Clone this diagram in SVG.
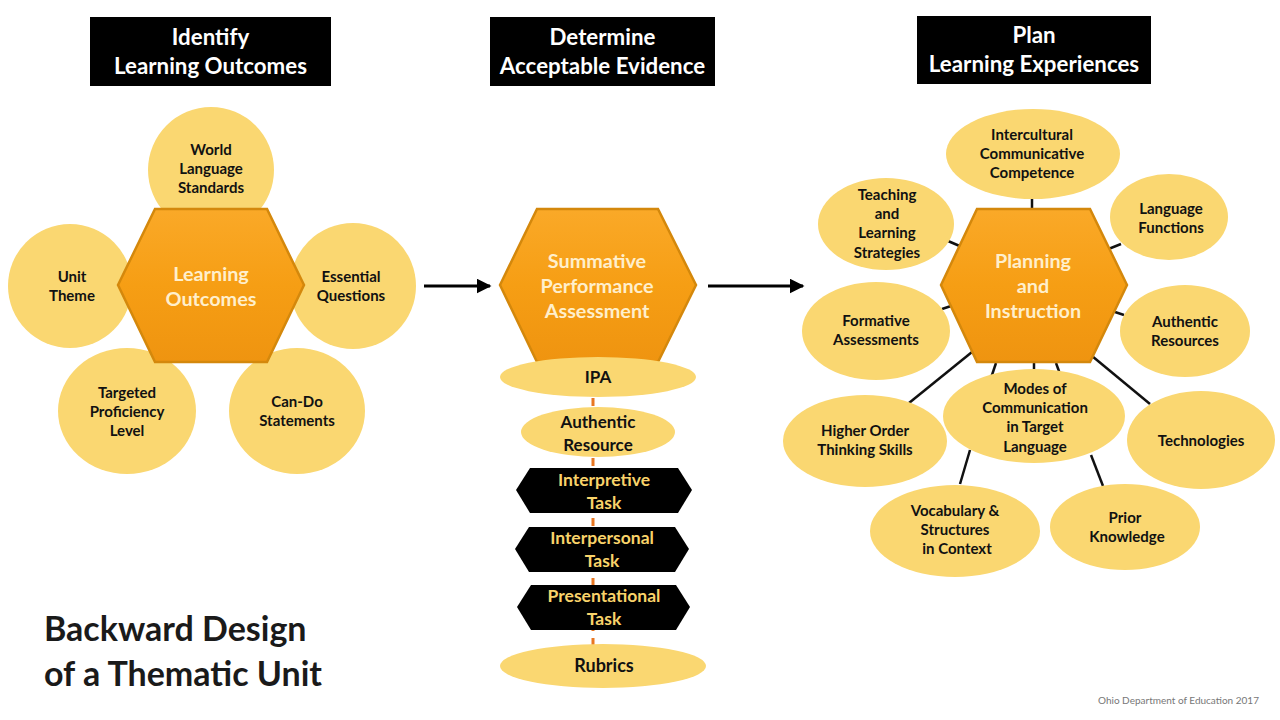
<svg xmlns="http://www.w3.org/2000/svg" width="1280" height="720" viewBox="0 0 1280 720">
<defs>
<linearGradient id="hexg" x1="0" y1="0" x2="0" y2="1">
<stop offset="0" stop-color="#FAA928"/>
<stop offset="0.5" stop-color="#F69E14"/>
<stop offset="1" stop-color="#EF9410"/>
</linearGradient>
<marker id="arr" viewBox="0 0 10 10" refX="9" refY="5" markerWidth="5" markerHeight="5" orient="auto" markerUnits="strokeWidth">
<path d="M0,0 L10,5 L0,10 z" fill="#000"/>
</marker>
<style>
text{font-family:"Lato","Liberation Sans",sans-serif;font-weight:bold;text-anchor:middle}
.hdr{fill:#000}
.hdrt{fill:#fff;font-size:22.3px}
.hex{fill:url(#hexg);stroke:#D4880C;stroke-width:2.5}
.hext{fill:#FFEFCC;font-size:19.8px}
.bub{fill:#FAD771}
.bt{fill:#111;font-size:15px}
.blk{fill:#000}
.blkt{fill:#F9D36A;font-size:17.5px}
.con{stroke:#111;stroke-width:2.5;fill:none}
.dash{stroke:#E87722;stroke-width:3;stroke-dasharray:8 7;fill:none}
.arrow{stroke:#000;stroke-width:3;fill:none;marker-end:url(#arr)}
.title{fill:#1a1a1a;font-size:34px;text-anchor:start}
.foot{fill:#777;font-size:10px;font-weight:normal;text-anchor:start}
</style>
</defs>
<rect width="1280" height="720" fill="#fff"/>

<g id="connectors">
<line class="arrow" x1="424" y1="286" x2="490" y2="286"/>
<line class="arrow" x1="708" y1="286" x2="803" y2="286"/>
<line class="dash" x1="593" y1="398" x2="593" y2="664"/>
<line class="con" x1="1032" y1="198" x2="1032" y2="211"/>
<line class="con" x1="948" y1="241" x2="962" y2="247"/>
<line class="con" x1="1106" y1="250" x2="1121" y2="244"/>
<line class="con" x1="942" y1="309" x2="951" y2="306"/>
<line class="con" x1="1115" y1="312" x2="1124" y2="315"/>
<line class="con" x1="972" y1="352" x2="909" y2="403"/>
<line class="con" x1="1092" y1="356" x2="1150" y2="404"/>
<line class="con" x1="996" y1="363" x2="991" y2="378"/>
<line class="con" x1="1034" y1="363" x2="1034" y2="373"/>
<line class="con" x1="1056" y1="363" x2="1060" y2="374"/>
<line class="con" x1="970" y1="450" x2="960" y2="484"/>
<line class="con" x1="1091" y1="455" x2="1103" y2="486"/>
</g>

<g id="hdr-identify"><rect class="hdr" x="90" y="17" width="241" height="69"/><text class="hdrt" x="210.5" y="45">Identify</text><text class="hdrt" x="210.5" y="74">Learning Outcomes</text></g>
<g id="hdr-determine"><rect class="hdr" x="490" y="17" width="225" height="69"/><text class="hdrt" x="602.5" y="45">Determine</text><text class="hdrt" x="602.5" y="74">Acceptable Evidence</text></g>
<g id="hdr-plan"><rect class="hdr" x="917" y="16" width="234" height="68"/><text class="hdrt" x="1034" y="43">Plan</text><text class="hdrt" x="1034" y="72">Learning Experiences</text></g>

<g id="n-wls"><circle class="bub" cx="211" cy="170" r="63"/><text class="bt" x="211" y="155">World</text><text class="bt" x="211" y="174">Language</text><text class="bt" x="211" y="193">Standards</text></g>
<g id="n-unit"><circle class="bub" cx="70" cy="286" r="62"/><text class="bt" x="72" y="282">Unit</text><text class="bt" x="72" y="301">Theme</text></g>
<g id="n-eq"><circle class="bub" cx="353" cy="286" r="63"/><text class="bt" x="351" y="282">Essential</text><text class="bt" x="351" y="301">Questions</text></g>
<g id="n-tpl"><ellipse class="bub" cx="127" cy="411" rx="69" ry="63"/><text class="bt" x="127" y="398">Targeted</text><text class="bt" x="127" y="417">Proficiency</text><text class="bt" x="127" y="436">Level</text></g>
<g id="n-cando"><ellipse class="bub" cx="297" cy="411" rx="68" ry="63"/><text class="bt" x="297" y="407">Can-Do</text><text class="bt" x="297" y="426">Statements</text></g>
<g id="n-lo"><polygon class="hex" points="118,285 155,209 267,209 304,285 267,362 155,362"/><text class="hext" x="211" y="281">Learning</text><text class="hext" x="211" y="306">Outcomes</text></g>

<g id="n-spa"><polygon class="hex" points="500,285 537,209 658,209 696,285 658,362 537,362"/><text class="hext" x="597" y="268">Summative</text><text class="hext" x="597" y="293">Performance</text><text class="hext" x="597" y="318">Assessment</text></g>
<g id="n-ipa"><ellipse class="bub" cx="598" cy="377" rx="98" ry="20"/><text class="bt" x="598" y="383" style="font-size:17px">IPA</text></g>
<g id="n-ar"><ellipse class="bub" cx="598" cy="432" rx="77" ry="25"/><text class="bt" x="598" y="428" style="font-size:17px">Authentic</text><text class="bt" x="598" y="451" style="font-size:17px">Resource</text></g>
<g id="n-interp"><polygon class="blk" points="516,490 530,468 678,468 692,490 678,513 530,513"/><text class="blkt" x="604" y="486">Interpretive</text><text class="blkt" x="604" y="509">Task</text></g>
<g id="n-interpers"><polygon class="blk" points="515,549 529,527 675,527 689,549 675,572 529,572"/><text class="blkt" x="602" y="544">Interpersonal</text><text class="blkt" x="602" y="567">Task</text></g>
<g id="n-pres"><polygon class="blk" points="517,607 531,585 676,585 690,607 676,630 531,630"/><text class="blkt" x="604" y="602">Presentational</text><text class="blkt" x="604" y="625">Task</text></g>
<g id="n-rub"><ellipse class="bub" cx="603" cy="666" rx="103" ry="22"/><text class="bt" x="604" y="672" style="font-size:18px">Rubrics</text></g>

<g id="n-icc"><ellipse class="bub" cx="1033" cy="154" rx="87" ry="45"/><text class="bt" x="1032" y="140">Intercultural</text><text class="bt" x="1032" y="159">Communicative</text><text class="bt" x="1032" y="178">Competence</text></g>
<g id="n-tls"><ellipse class="bub" cx="886" cy="224" rx="68" ry="46"/><text class="bt" x="887" y="200">Teaching</text><text class="bt" x="887" y="219">and</text><text class="bt" x="887" y="238">Learning</text><text class="bt" x="887" y="258">Strategies</text></g>
<g id="n-lf"><ellipse class="bub" cx="1169" cy="217" rx="59" ry="43"/><text class="bt" x="1171" y="214">Language</text><text class="bt" x="1171" y="233">Functions</text></g>
<g id="n-fa"><ellipse class="bub" cx="876" cy="331" rx="74" ry="49"/><text class="bt" x="876" y="326">Formative</text><text class="bt" x="876" y="345">Assessments</text></g>
<g id="n-ares"><ellipse class="bub" cx="1185" cy="331" rx="65" ry="46"/><text class="bt" x="1185" y="327">Authentic</text><text class="bt" x="1185" y="346">Resources</text></g>
<g id="n-hots"><ellipse class="bub" cx="865" cy="441" rx="82" ry="46"/><text class="bt" x="865" y="436">Higher Order</text><text class="bt" x="865" y="455">Thinking Skills</text></g>
<g id="n-tech"><ellipse class="bub" cx="1201" cy="440" rx="74" ry="49"/><text class="bt" x="1201" y="446">Technologies</text></g>
<g id="n-modes"><ellipse class="bub" cx="1034" cy="416" rx="91" ry="47"/><text class="bt" x="1035" y="394">Modes of</text><text class="bt" x="1035" y="413">Communication</text><text class="bt" x="1035" y="432">in Target</text><text class="bt" x="1035" y="452">Language</text></g>
<g id="n-vocab"><ellipse class="bub" cx="955" cy="531" rx="85" ry="46"/><text class="bt" x="955" y="516">Vocabulary &amp;</text><text class="bt" x="955" y="535">Structures</text><text class="bt" x="957" y="554">in Context</text></g>
<g id="n-prior"><ellipse class="bub" cx="1125" cy="527" rx="75" ry="43"/><text class="bt" x="1125" y="523">Prior</text><text class="bt" x="1127" y="542">Knowledge</text></g>
<g id="n-pi"><polygon class="hex" points="941,285 977,209 1090,209 1127,285 1090,362 977,362"/><text class="hext" x="1033" y="268">Planning</text><text class="hext" x="1033" y="293">and</text><text class="hext" x="1033" y="318">Instruction</text></g>

<g id="title"><text class="title" x="44" y="641">Backward Design</text><text class="title" x="44" y="686">of a Thematic Unit</text></g>
<text class="foot" x="1098" y="704">Ohio Department of Education 2017</text>
</svg>
